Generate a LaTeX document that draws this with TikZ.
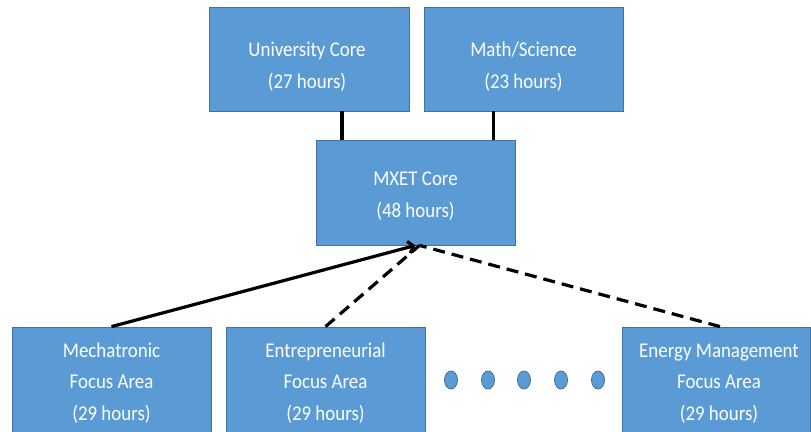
\documentclass[tikz,border=0pt]{standalone}
\usepackage{fontspec}
\setmainfont[FakeStretch=0.9]{Carlito}
\usetikzlibrary{arrows.meta,shapes.geometric}
\definecolor{boxblue}{HTML}{5B9BD5}
\definecolor{boxedge}{HTML}{41719C}
\begin{document}
\begin{tikzpicture}[x=1pt,y=-1pt,
  box/.style={draw=boxedge, line width=0.8pt, fill=boxblue, inner sep=0pt},
  txt/.style={text=white, align=center, inner sep=0pt, anchor=base,
    font=\fontsize{21}{31.5}\selectfont},
  dot/.style={ellipse, draw=boxedge, line width=0.8pt, fill=boxblue, minimum width=13pt, minimum height=18pt, inner sep=0pt},
  conn/.style={line width=3.2pt, black},
  dconn/.style={line width=3.2pt, black, dash pattern=on 12pt off 7pt}]
\useasboundingbox (0,0) rectangle (811,431);
\clip (0,0) rectangle (811,431);
\fill[white] (0,0) rectangle (811,431);
% boxes
\node[box, minimum width=200pt, minimum height=104pt] (uc) at (309,59) {};
\node[box, minimum width=199pt, minimum height=104pt] (ms) at (523.5,59) {};
\node[box, minimum width=199pt, minimum height=105pt] (mx) at (415.5,192.5) {};
\node[box, minimum width=199pt, minimum height=110pt] (mech) at (111.5,382) {};
\node[box, minimum width=199pt, minimum height=110pt] (ent) at (325.5,382) {};
\node[box, minimum width=188pt, minimum height=110pt] (en) at (716,382) {};
% texts (anchor base = baseline of last line)
\node[txt] (ucT) at (307,88) {University Core\\(27 hours)};
\node[txt] (msT) at (523.5,88) {Math/Science\\(23 hours)};
\node[txt] (mxT) at (415.5,217) {MXET Core\\(48 hours)};
\node[txt] (mechT) at (111.5,420) {Mechatronic\\Focus Area\\(29 hours)};
\node[txt] (entT) at (325.5,420) {Entrepreneurial\\Focus Area\\(29 hours)};
\node[txt] (enT) at (719,420) {Energy Management\\Focus Area\\(29 hours)};
% dots
\node[dot] (d1) at (451,380) {};
\node[dot] (d2) at (488,380) {};
\node[dot] (d3) at (524,380) {};
\node[dot] (d4) at (561,380) {};
\node[dot] (d5) at (598,380) {};
% connectors
\draw[conn] ([xshift=33pt]uc.south) -- ([xshift=33pt]uc.south |- mx.north);
\draw[conn] ([xshift=-30pt]ms.south) -- ([xshift=-30pt]ms.south |- mx.north);
\draw[conn, -{Straight Barb[length=5pt,width=12pt]}] (mech.north) -- (mx.south);
\draw[dconn] (ent.north) -- ([xshift=4pt]mx.south);
\draw[dconn] ([xshift=4pt]en.north) -- ([xshift=4pt]mx.south);
\end{tikzpicture}
\end{document}
